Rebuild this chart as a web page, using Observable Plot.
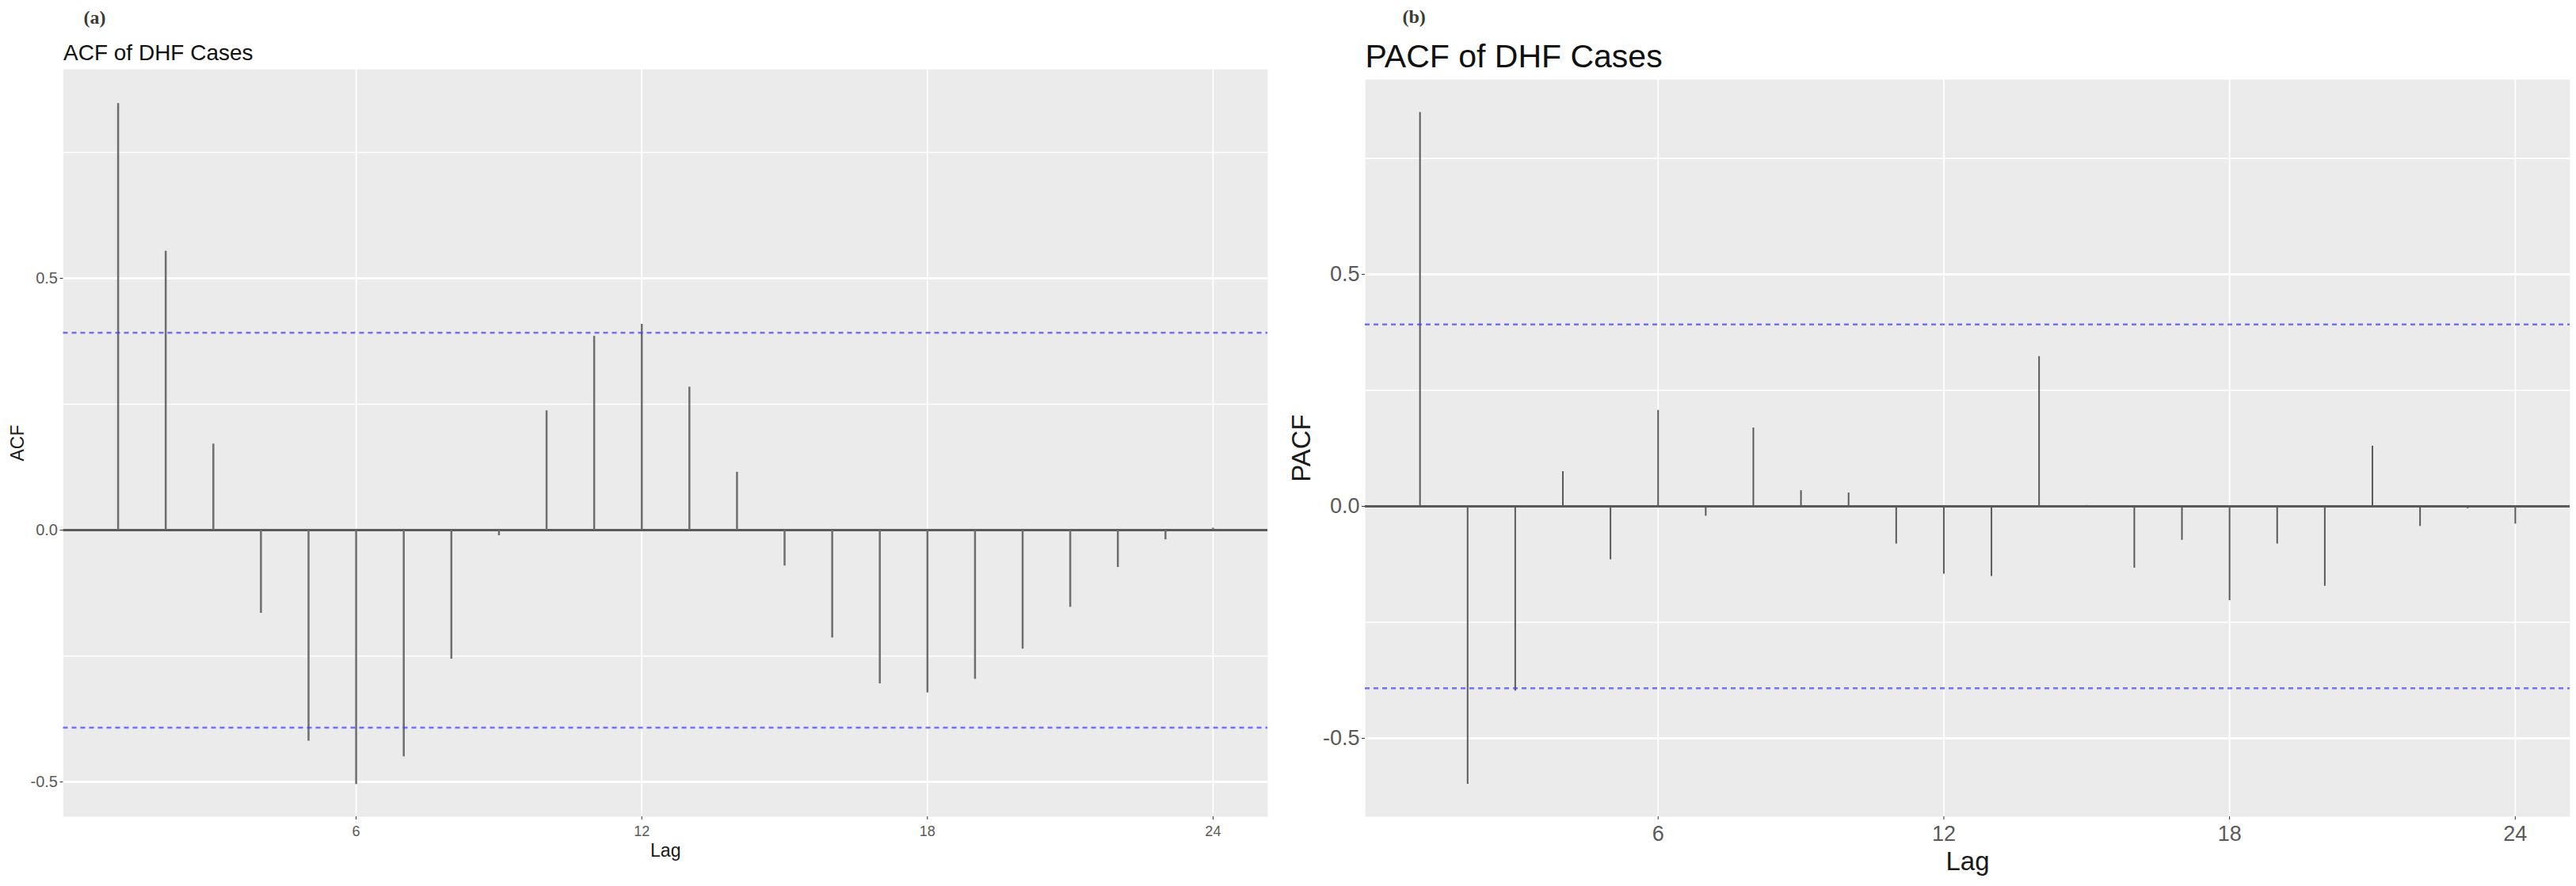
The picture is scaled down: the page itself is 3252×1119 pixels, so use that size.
<!DOCTYPE html>
<html>
<head>
<meta charset="utf-8">
<script src="https://cdn.jsdelivr.net/npm/d3@7"></script>
<script src="https://cdn.jsdelivr.net/npm/@observablehq/plot@0.6"></script>
<style>
  html, body { margin: 0; padding: 0; background: #ffffff; width: 3252px; height: 1119px; overflow: hidden; }
  .panel { position: absolute; top: 0; }
  #acf { left: 0; }
  #pacf { left: 1626px; }
</style>
</head>
<body>
<div id="acf" class="panel"></div>
<div id="pacf" class="panel"></div>
<script>
// ---- data ----
const lags = [1, 2, 3, 4, 5, 6, 7, 8, 9, 10, 11, 12, 13, 14, 15, 16, 17, 18, 19, 20, 21, 22, 23, 24];
const acfValues = [0.847, 0.554, 0.171, -0.165, -0.419, -0.505, -0.450, -0.256, -0.011, 0.237, 0.385, 0.409,
                   0.284, 0.115, -0.071, -0.214, -0.305, -0.323, -0.296, -0.236, -0.153, -0.074, -0.019, 0.004];
const pacfValues = [0.849, -0.599, -0.398, 0.075, -0.115, 0.207, -0.021, 0.169, 0.034, 0.029, -0.081, -0.146,
                    -0.151, 0.323, 0.002, -0.133, -0.073, -0.203, -0.081, -0.172, 0.130, -0.043, -0.005, -0.038];
const ciBounds = [0.392, -0.392];
const xTickValues = [6, 12, 18, 24];
const yMajorTicks = [-0.5, 0, 0.5];
const yMinorTicks = [-0.25, 0.25, 0.75];
const panelLabels = ["(a)", "(b)"];
const titles = ["ACF of DHF Cases", "PACF of DHF Cases"];
const yLabels = ["ACF", "PACF"];
const xLabel = "Lag";

function makePanel(cfg) {
  const data = lags.map((lag, i) => ({lag, value: cfg.values[i]}));
  return Plot.plot({
    width: 1626,
    height: 1119,
    marginTop: cfg.mt,
    marginLeft: cfg.ml,
    marginRight: cfg.mr,
    marginBottom: 88,
    style: {fontFamily: "'Liberation Sans', Arial, sans-serif", background: "transparent", overflow: "visible"},
    x: {domain: [-0.15, 25.15], label: null},
    y: {domain: cfg.ydomain, label: null},
    marks: [
      Plot.frame({fill: "#ebebeb", stroke: "none"}),
      Plot.ruleY(yMinorTicks.filter(v => v > cfg.ydomain[0] && v < cfg.ydomain[1]), {stroke: "#ffffff", strokeWidth: 1.6}),
      Plot.ruleY(yMajorTicks, {stroke: "#ffffff", strokeWidth: 3}),
      Plot.ruleX(xTickValues, {stroke: "#ffffff", strokeWidth: 1.8}),
      Plot.ruleY([0], {stroke: "#5a5a5a", strokeWidth: 3}),
      Plot.ruleX(data, {x: "lag", y1: 0, y2: "value", stroke: cfg.barColor, strokeWidth: cfg.barWidth}),
      Plot.ruleY(ciBounds, {stroke: "#3d3dff", strokeOpacity: 0.7, strokeWidth: 2.5, strokeDasharray: "6,5"}),
      Plot.axisY({ticks: yMajorTicks, tickSize: 4, tickPadding: 3, fontSize: cfg.tickFont,
                  tickFormat: d => d.toFixed(1), stroke: "#333333", fill: "#5a5a5a", label: null}),
      Plot.axisX({ticks: xTickValues, tickSize: 4, tickPadding: cfg.xPad, fontSize: cfg.xTickFont,
                  tickFormat: d => String(d), stroke: "#333333", fill: "#5a5a5a", label: null}),
      Plot.text([cfg.yLabel], {text: d => d, frameAnchor: "left", dx: cfg.yLabelDx, rotate: -90,
                               textAnchor: "middle", fontSize: cfg.labelFont, fill: "#1a1a1a"}),
      Plot.text([xLabel], {text: d => d, frameAnchor: "bottom", dy: cfg.xLabelDy,
                           textAnchor: "middle", lineAnchor: "middle", fontSize: cfg.labelFont, fill: "#1a1a1a"}),
      Plot.text([cfg.title], {text: d => d, frameAnchor: "top-left", dy: cfg.titleDy,
                              textAnchor: "start", lineAnchor: "bottom", fontSize: cfg.titleFont, fill: "#111111"}),
      Plot.text([cfg.tag], {text: d => d, frameAnchor: "top-left", dx: cfg.tagDx, dy: cfg.tagDy,
                            textAnchor: "start", lineAnchor: "bottom", fontSize: 24, fontWeight: "bold",
                            fontFamily: "'Liberation Serif', 'Times New Roman', serif", fill: "#3a3a3a"})
    ]
  });
}

document.getElementById("acf").appendChild(makePanel({
  values: acfValues, ydomain: [-0.569, 0.915], mt: 87, ml: 79.5, mr: 26,
  barColor: "#6e6e6e", barWidth: 2.5, tickFont: 20, xTickFont: 18, xPad: 8,
  yLabel: yLabels[0], yLabelDx: -57.5, labelFont: 23, xLabelDy: 43,
  title: titles[0], titleFont: 28, titleDy: -12, tag: panelLabels[0], tagDx: 25.5, tagDy: -58
}));

document.getElementById("pacf").appendChild(makePanel({
  values: pacfValues, ydomain: [-0.669, 0.920], mt: 100, ml: 97, mr: 8,
  barColor: "#5a5a5a", barWidth: 2, tickFont: 27, xTickFont: 27, xPad: 7,
  yLabel: yLabels[1], yLabelDx: -80, labelFont: 33, xLabelDy: 57,
  title: titles[1], titleFont: 41, titleDy: -16, tag: panelLabels[1], tagDx: 47, tagDy: -72
}));
</script>
</body>
</html>
